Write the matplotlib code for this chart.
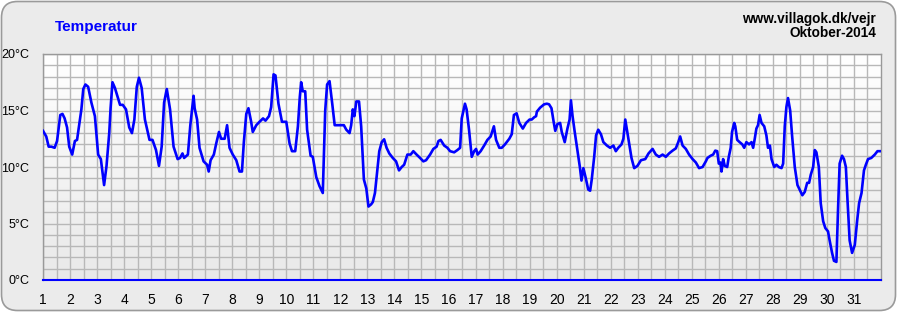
import numpy as np
import matplotlib
matplotlib.use("Agg")
import matplotlib.pyplot as plt
from matplotlib.patches import FancyBboxPatch

plt.rcParams['font.family'] = ['Liberation Sans', 'DejaVu Sans']

# day of month (fractional) and temperature in degC
day = [1.0, 1.12, 1.21, 1.31, 1.43, 1.52, 1.64, 1.72, 1.80, 1.89, 1.97, 2.08, 2.18, 2.26,
       2.42, 2.49, 2.57, 2.67, 2.79, 2.92, 3.04, 3.14, 3.26, 3.35, 3.45, 3.50, 3.57, 3.66,
       3.85, 3.95, 4.07, 4.19, 4.29, 4.38, 4.47, 4.55, 4.65, 4.77, 4.94, 5.05, 5.18, 5.29,
       5.39, 5.48, 5.58, 5.70, 5.83, 5.98, 6.07, 6.16, 6.22, 6.36, 6.45, 6.57, 6.61, 6.70,
       6.79, 6.94, 7.07, 7.13,
       7.20, 7.32, 7.41, 7.51, 7.59, 7.72, 7.81, 7.90, 8.02, 8.15, 8.27, 8.36, 8.43, 8.52,
       8.60, 8.70, 8.76, 8.89, 9.01, 9.14, 9.23, 9.36, 9.44, 9.53, 9.60, 9.71, 9.84, 10.0,
       10.12, 10.21, 10.33, 10.43, 10.50, 10.55, 10.61, 10.70, 10.77, 10.90, 10.98, 11.11,
       11.23, 11.35, 11.44, 11.51, 11.60, 11.70, 11.79, 11.91, 12.01, 12.13, 12.22, 12.34,
       12.40, 12.46, 12.52, 12.59, 12.69, 12.77, 12.87, 12.96, 13.04, 13.14,
       13.20, 13.28, 13.34, 13.44, 13.53, 13.62, 13.71, 13.81, 13.94, 14.06, 14.17, 14.27,
       14.36, 14.48, 14.60, 14.70, 14.82, 14.95, 15.07, 15.17, 15.32, 15.44, 15.56, 15.63,
       15.71, 15.84, 15.96, 16.06, 16.21, 16.33, 16.43, 16.49, 16.61, 16.67, 16.76, 16.86,
       16.95, 17.02, 17.08, 17.19, 17.32, 17.44, 17.56, 17.68, 17.76, 17.88, 17.97, 18.09,
       18.25, 18.34, 18.42, 18.52, 18.62, 18.75, 18.87, 19.0, 19.08, 19.17, 19.24,
       19.27, 19.39, 19.54, 19.64, 19.72, 19.81, 19.89, 19.95, 20.03, 20.13, 20.19, 20.30,
       20.40, 20.48, 20.53, 20.59, 20.67, 20.77, 20.86, 20.92, 20.99, 21.08, 21.17, 21.24,
       21.30, 21.39, 21.46, 21.54, 21.64, 21.73, 21.86, 21.98, 22.10, 22.19, 22.28, 22.40,
       22.47, 22.54, 22.62, 22.71, 22.77, 22.87, 22.99, 23.12, 23.28, 23.40, 23.55, 23.67,
       23.79, 23.92, 24.04, 24.16, 24.29, 24.41, 24.50, 24.57, 24.66, 24.78, 24.90, 25.03,
       25.15, 25.27, 25.40, 25.52,
       25.58, 25.70, 25.79, 25.87, 25.94, 26.0, 26.06, 26.10, 26.16, 26.22, 26.31, 26.37,
       26.44, 26.49, 26.57, 26.61, 26.68, 26.77, 26.87, 26.94, 27.02, 27.12, 27.21, 27.27,
       27.33, 27.39, 27.45, 27.51, 27.58, 27.68, 27.76, 27.82, 27.89, 27.95, 28.05, 28.13,
       28.22, 28.32, 28.38, 28.44, 28.50, 28.56, 28.64, 28.71, 28.81, 28.91, 28.99, 29.09,
       29.18, 29.27, 29.34, 29.40, 29.49, 29.55, 29.61, 29.70, 29.77, 29.86, 29.94, 30.04,
       30.10, 30.19, 30.26, 30.35, 30.41, 30.47, 30.56, 30.63, 30.70, 30.76, 30.84, 30.93,
       31.03, 31.12, 31.19, 31.28, 31.37, 31.44, 31.52, 31.64, 31.77, 31.87, 31.95]

temp = [13.2, 12.7, 11.8, 11.8, 11.7, 12.3, 14.6, 14.7, 14.3, 13.5, 11.8, 11.1, 12.3, 12.4,
        15.1, 16.9, 17.3, 17.1, 15.7, 14.5, 11.1, 10.7, 8.4, 10.1, 13.0, 15.2, 17.5, 17.0,
        15.5, 15.5, 15.1, 13.5, 13.0, 14.2, 17.1, 17.9, 17.0, 14.2, 12.4, 12.4, 11.5, 10.1,
        11.8, 15.7, 16.9, 15.1, 11.8, 10.7, 10.8, 11.2, 10.8, 11.1, 13.7, 16.3, 15.2, 14.2,
        11.7, 10.5, 10.2, 9.6,
        10.6, 11.1, 12.1, 13.1, 12.5, 12.5, 13.7, 11.7, 11.1, 10.6, 9.6, 9.6, 12.2, 14.7,
        15.2, 14.0, 13.1, 13.7, 14.0, 14.3, 14.1, 14.5, 15.3, 18.2, 18.1, 15.6, 14.0, 14.0,
        12.1, 11.4, 11.4, 13.6, 16.2, 17.5, 16.7, 16.7, 13.3, 11.0, 10.9, 9.1,
        8.3, 7.7, 15.0, 17.3, 17.6, 15.6, 13.7, 13.7, 13.7, 13.7, 13.3, 13.0,
        13.7, 15.1, 14.5, 15.8, 15.8, 13.6, 8.9, 8.1, 6.5, 6.7,
        6.9, 7.7, 9.1, 11.4, 12.2, 12.45, 11.7, 11.2, 10.8, 10.5, 9.7, 10.0,
        10.2, 11.1, 11.1, 11.4, 11.1, 10.8, 10.5, 10.6, 11.1, 11.6, 11.8, 12.3,
        12.4, 11.9, 11.7, 11.4, 11.3, 11.5, 11.7, 14.3, 15.6, 15.1, 13.3, 10.9,
        11.4, 11.6, 11.1, 11.4, 11.9, 12.4, 12.7, 13.6, 12.4, 11.7, 11.7, 12.0,
        12.5, 12.9, 14.6, 14.75, 13.9, 13.4, 13.9, 14.2, 14.2, 14.4, 14.5,
        14.9, 15.25, 15.55, 15.6, 15.55, 15.2, 14.0, 13.2, 13.8, 13.9, 13.1, 12.2,
        13.4, 14.2, 15.9, 14.5, 13.1, 11.5, 10.0, 8.8, 9.9, 9.0, 8.0, 7.9,
        8.9, 10.9, 12.8, 13.3, 12.9, 12.2, 11.9, 11.7, 11.9, 11.4, 11.7, 12.0,
        12.5, 14.2, 13.0, 11.7, 10.8, 9.9, 10.1, 10.6, 10.7, 11.2, 11.6, 11.1,
        10.9, 11.1, 10.9, 11.2, 11.45, 11.65, 12.2, 12.7, 11.9, 11.6, 11.1, 10.7,
        10.4, 9.9, 10.0, 10.5,
        10.8, 11.0, 11.1, 11.45, 11.4, 10.3, 10.4, 9.6, 10.7, 10.1, 10.0, 10.9,
        11.7, 13.1, 13.9, 13.6, 12.4, 12.2, 12.0, 11.7, 12.2, 12.0, 12.2, 11.7,
        12.5, 13.4, 13.7, 14.6, 13.9, 13.6, 12.8, 11.7, 11.9, 10.7, 10.0, 10.2,
        10.0, 9.9, 10.3, 13.6, 15.3, 16.1, 15.0, 12.8, 10.0, 8.4, 8.0, 7.5,
        7.8, 8.6, 8.6, 9.3, 10.0, 11.5, 11.3, 10.0, 6.8, 5.2, 4.6, 4.3,
        3.5, 2.4, 1.7, 1.6, 6.2, 10.3, 11.0, 10.7, 10.0, 7.1, 3.5, 2.4,
        3.1, 5.3, 6.8, 7.7, 9.7, 10.2, 10.7, 10.8, 11.1, 11.4, 11.4]

day_ticks = list(range(1, 32))
temp_ticks = [0, 5, 10, 15, 20]
temp_labels = ["0°C", "5°C", "10°C", "15°C", "20°C"]

W, H = 897, 312
fig = plt.figure(figsize=(W / 100, H / 100), dpi=100)
fig.patch.set_facecolor("white")

# rounded grey panel behind everything
panel = FancyBboxPatch((1.5, 1.5), W - 3, H - 3, boxstyle="round,pad=0,rounding_size=16",
                       transform=None, facecolor="#ebebeb", edgecolor="#9a9a9a", linewidth=1.2,
                       zorder=-5)
fig.patches.append(panel)

ax = fig.add_axes([43 / W, 32 / H, 838 / W, 226 / H])
ax.set_facecolor("none")

# white -> light grey gradient in the plot area
grad = np.linspace(1.0, 0.0, 256).reshape(-1, 1)
ax.imshow(grad, extent=[0, 1, 0, 1], transform=ax.transAxes, aspect="auto",
          cmap=matplotlib.colors.LinearSegmentedColormap.from_list("g", ["#e9e9e9", "#ffffff"]),
          zorder=-2)

ax.plot(day, temp, color="#0000ff", linewidth=1.9, zorder=3, solid_joinstyle="round")

ax.set_xlim(1, 32)
ax.set_ylim(0, 20)
ax.set_xticks(day_ticks)
ax.set_xticklabels([str(d) for d in day_ticks])
ax.set_xticks(np.arange(1.5, 32, 1), minor=True)
ax.set_yticks(temp_ticks)
ax.set_yticklabels(temp_labels)
ax.set_yticks(np.arange(1, 20, 1), minor=True)
ax.grid(True, which="both", color="#b8b8b8", linewidth=1.0)
ax.set_axisbelow(True)
ax.tick_params(which="both", length=0)
ax.tick_params(axis="x", pad=9, labelsize=10, colors="black")
ax.tick_params(axis="y", pad=10, labelsize=9, colors="black")

for s in ["left", "top", "right"]:
    ax.spines[s].set_color("#999999")
    ax.spines[s].set_linewidth(1.0)
ax.spines["bottom"].set_color("#0000ff")
ax.spines["bottom"].set_linewidth(1.5)

fig.text(55 / W, 1 - 27 / H, "Temperatur", color="#0000ff", fontsize=11,
         fontweight="bold", ha="left", va="center")
fig.text(876 / W, 1 - 19 / H, "www.villagok.dk/vejr", color="black", fontsize=9.8,
         fontweight="bold", ha="right", va="center")
fig.text(876 / W, 1 - 33 / H, "Oktober-2014", color="black", fontsize=9.8,
         fontweight="bold", ha="right", va="center")

fig.savefig("out.png", dpi=100)
